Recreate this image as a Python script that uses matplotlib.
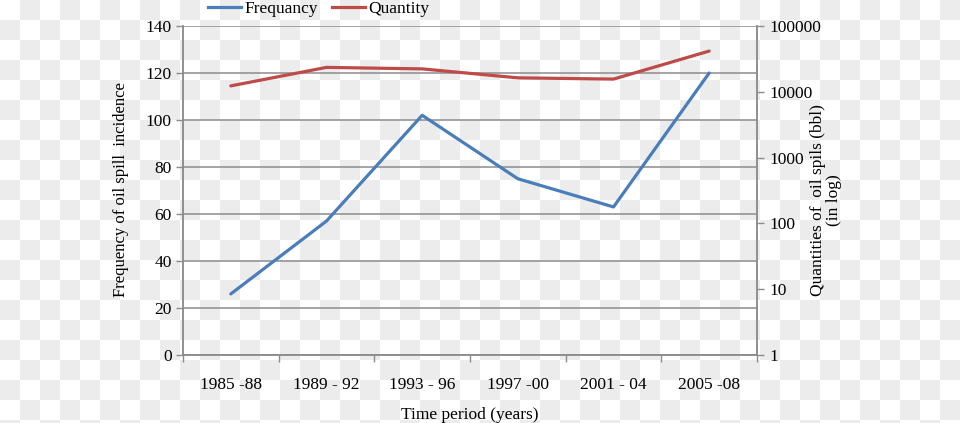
import numpy as np
import matplotlib
matplotlib.use("Agg")
import matplotlib.pyplot as plt
from matplotlib.lines import Line2D
from matplotlib.ticker import FixedLocator, NullFormatter, FuncFormatter

periods = ["1985 -88", "1989 - 92", "1993 - 96", "1997 -00", "2001 - 04", "2005 -08"]
frequency = [26, 57, 102, 75, 63, 120]
quantity = [12300, 23500, 22300, 16300, 15600, 41600]

plt.rcParams['font.family'] = ['Liberation Serif', 'DejaVu Serif']
FS = 12.5

W, H = 960, 423
fig = plt.figure(figsize=(W / 100, H / 100), dpi=100)

# transparent-background checkerboard
yy, xx = np.mgrid[0:H, 0:W]
board = ((xx // 20 + yy // 20) % 2).astype(float)
img = np.ones((H, W, 3))
img[board == 1] = np.array([236, 236, 236]) / 255.0
fig.figimage(img, 0, 0, zorder=-10)
fig.patch.set_alpha(0)

ax = fig.add_axes([183 / W, 1 - 355 / H, (757 - 183) / W, (355 - 26) / H])
ax.patch.set_alpha(0)
ax2 = ax.twinx()
ax2.patch.set_alpha(0)

x = np.arange(len(periods))
grid_c = "#8c8c8c"
blue = "#4a7ebb"
red = "#be4b48"

ax.set_ylim(0, 140)
ax.set_yticks(np.arange(0, 141, 20))
ax.yaxis.grid(True, color=grid_c, linewidth=1.1)
ax.set_axisbelow(True)
ax.set_xlim(-0.5, len(periods) - 0.5)
ax.xaxis.set_major_locator(FixedLocator(np.arange(-0.5, len(periods), 1.0)))
ax.xaxis.set_major_formatter(NullFormatter())
ax.xaxis.set_minor_locator(FixedLocator(x))
ax.set_xticklabels(periods, minor=True)
ax.tick_params(axis='x', which='minor', length=0, pad=16, labelsize=FS)
ax.tick_params(axis='x', which='major', length=5, color=grid_c, width=1)
ax.tick_params(axis='y', length=5, color=grid_c, width=1, labelsize=FS, pad=3)

for s in ['top']:
    ax.spines[s].set_visible(False)
    ax2.spines[s].set_visible(False)
for s in ['left', 'bottom', 'right']:
    ax.spines[s].set_color(grid_c)
    ax2.spines[s].set_color(grid_c)
    ax.spines[s].set_linewidth(1.1)
    ax2.spines[s].set_linewidth(1.1)

ax.plot(x, frequency, color=blue, linewidth=2.3, solid_capstyle='round', zorder=3)

ax2.set_yscale('log')
ax2.set_ylim(1, 100000)
ax2.yaxis.set_major_locator(FixedLocator([1, 10, 100, 1000, 10000, 100000]))
ax2.yaxis.set_minor_locator(FixedLocator([]))
ax2.yaxis.set_major_formatter(FuncFormatter(lambda v, p: f"{int(round(v))}"))
ax2.tick_params(axis='y', length=5, color=grid_c, width=1, labelsize=FS, pad=4)
ax2.plot(x, quantity, color=red, linewidth=2.3, solid_capstyle='round', zorder=3)

ax.set_ylabel("Frequency of oil spill  incidence", fontsize=12, va='center')
ax.yaxis.set_label_coords((121 - 183) / 574, (355 - 190) / 329)
ax2.set_ylabel("Quantities of  oil spils (bbl)\n(in log)", fontsize=FS, rotation=90,
               linespacing=1.0, va='center')
ax2.yaxis.set_label_coords((826 - 183) / 574, (355 - 200) / 329)
ax.set_xlabel("Time period (years)", fontsize=FS, labelpad=10)

handles = [Line2D([], [], color=blue, linewidth=2.3),
           Line2D([], [], color=red, linewidth=2.3)]
fig.legend(handles, ["Frequancy", "Quantity"], loc='center', ncol=2,
           bbox_to_anchor=(319 / W, 1 - 9 / H), frameon=False, fontsize=FS,
           handlelength=1.9, handletextpad=0.2, columnspacing=0.8,
           borderpad=0, borderaxespad=0)

fig.savefig("out.png", dpi=100)
